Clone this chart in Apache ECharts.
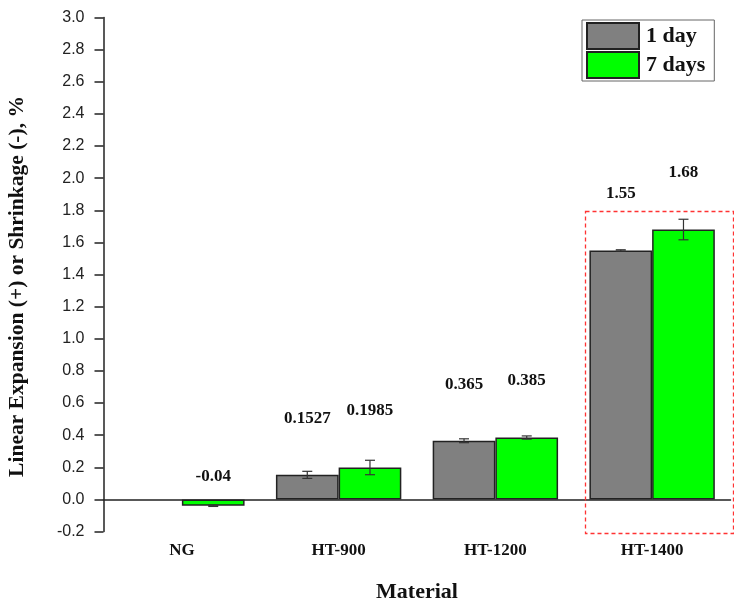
<!DOCTYPE html>
<html>
<head>
<meta charset="utf-8">
<script src="https://cdn.jsdelivr.net/npm/echarts@6/dist/echarts.min.js"></script>
<style>
html,body{margin:0;padding:0;background:#fff;}
#chart{width:734px;height:610px;}
</style>
</head>
<body>
<div id="chart"></div>
<script>
// ---- data ----
var categories = ['NG', 'HT-900', 'HT-1200', 'HT-1400'];
var seriesNames = ['1 day', '7 days'];
var day1 = [0, 0.1527, 0.365, 1.55];
var day7 = [-0.04, 0.1985, 0.385, 1.68];
var day1Err = [0, 0.022, 0.012, 0.004];
var day7Err = [0.004, 0.045, 0.010, 0.064];
var yTicks = [-0.2, 0.0, 0.2, 0.4, 0.6, 0.8, 1.0, 1.2, 1.4, 1.6, 1.8, 2.0, 2.2, 2.4, 2.6, 2.8, 3.0];

// ---- build ----
var serif = "'Liberation Serif', 'Times New Roman', serif";
var sans = "'Liberation Sans', Arial, sans-serif";
var chart = echarts.init(document.getElementById('chart'), null, {renderer: 'canvas'});

function barData(vals) {
  return vals.map(function (v) {
    var item = {value: v};
    if (v < 0) item.label = {distance: 14};
    if (v === 0) item.itemStyle = {borderWidth: 0};
    return item;
  });
}

function errData(vals, errs) {
  return vals.map(function (v, i) { return [i, v, errs[i]]; });
}

function errRender(side) {
  return function (params, api) {
    var idx = api.value(0), v = api.value(1), e = api.value(2);
    if (!e) return null;
    var band = api.size([1, 0])[0];
    var c = api.coord([idx, v]);
    var x = c[0] + side * band * 0.2;
    var hi = api.coord([idx, v + e])[1];
    var lo = api.coord([idx, v - e])[1];
    var cap = 5;
    var st = {stroke: '#333', lineWidth: 1.2};
    return {
      type: 'group',
      children: [
        {type: 'line', shape: {x1: x, y1: hi, x2: x, y2: lo}, style: st},
        {type: 'line', shape: {x1: x - cap, y1: hi, x2: x + cap, y2: hi}, style: st},
        {type: 'line', shape: {x1: x - cap, y1: lo, x2: x + cap, y2: lo}, style: st}
      ]
    };
  };
}

var labelStyle = {
  show: true,
  position: 'top',
  distance: 48,
  fontFamily: serif,
  fontWeight: 'bold',
  fontSize: 17,
  color: '#111',
  formatter: function (p) { return p.value === 0 ? '' : String(p.value); }
};

var option = {
  animation: false,
  backgroundColor: '#fff',
  grid: {left: 103.5, right: 3.5, top: 17.5, bottom: 78.5, containLabel: false, outerBoundsMode: 'none'},
  legend: {
    orient: 'vertical',
    left: 582,
    top: 20,
    itemWidth: 52,
    itemHeight: 26,
    itemGap: 1,
    padding: [2, 9, 2, 4],
    borderColor: '#666',
    borderWidth: 1,
    icon: 'rect',
    data: seriesNames,
    textStyle: {fontFamily: serif, fontWeight: 'bold', fontSize: 22, color: '#111', padding: [0, 0, 0, 2]}
  },
  xAxis: [
    {
      type: 'category',
      data: categories,
      position: 'bottom',
      axisLine: {onZero: true, lineStyle: {color: '#222', width: 1.5}},
      axisTick: {alignWithLabel: true, length: 10, lineStyle: {color: '#222', width: 1.5}},
      axisLabel: {margin: 11, fontFamily: serif, fontWeight: 'bold', fontSize: 17, color: '#111'},
      name: 'Material',
      nameLocation: 'middle',
      nameGap: 50,
      nameMoveOverlap: false,
      nameTextStyle: {fontFamily: serif, fontWeight: 'bold', fontSize: 22, color: '#111'},
      splitLine: {show: false}
    },
    {
      type: 'category',
      data: categories,
      position: 'bottom',
      axisLine: {show: false, onZero: true, onZeroAxisIndex: 0},
      axisTick: {length: 6, lineStyle: {color: '#222', width: 1.5}},
      axisLabel: {show: false},
      splitLine: {show: false}
    }
  ],
  yAxis: {
    type: 'value',
    min: -0.2,
    max: 3.0,
    interval: 0.2,
    axisLine: {show: true, onZero: false, lineStyle: {color: '#222', width: 1.5}},
    axisTick: {show: true, length: 9, lineStyle: {color: '#222', width: 1.5}},
    axisLabel: {
      margin: 19, fontFamily: sans, fontSize: 16, color: '#222',
      formatter: function (v) { return v.toFixed(1); },
      customValues: yTicks
    },
    splitLine: {show: false},
    name: 'Linear Expansion (+) or Shrinkage (-), %',
    nameLocation: 'middle',
    nameGap: 75,
    nameTextStyle: {fontFamily: serif, fontWeight: 'bold', fontSize: 21.5, color: '#111', padding: [0, 24, 0, 0]}
  },
  series: [
    {
      name: seriesNames[0],
      type: 'bar',
      xAxisIndex: 0,
      barWidth: '40%',
      barGap: '0%',
      data: barData(day1),
      itemStyle: {color: '#808080', borderColor: '#222', borderWidth: 1.5},
      label: labelStyle,
      z: 2
    },
    {
      name: seriesNames[1],
      type: 'bar',
      xAxisIndex: 0,
      barWidth: '40%',
      barGap: '0%',
      data: barData(day7),
      itemStyle: {color: '#00ff00', borderColor: '#222', borderWidth: 1.5},
      label: labelStyle,
      z: 2
    },
    {
      type: 'custom',
      xAxisIndex: 0,
      renderItem: errRender(-1),
      data: errData(day1, day1Err),
      z: 5,
      silent: true
    },
    {
      type: 'custom',
      xAxisIndex: 0,
      renderItem: errRender(1),
      data: errData(day7, day7Err),
      z: 5,
      silent: true
    }
  ],
  graphic: [
    {
      type: 'rect',
      left: 583,
      top: 209,
      shape: {width: 148, height: 322},
      style: {fill: 'none', stroke: '#ff3333', lineWidth: 1.3, lineDash: [4, 3]},
      z: 10
    }
  ]
};
chart.setOption(option);
</script>
</body>
</html>
